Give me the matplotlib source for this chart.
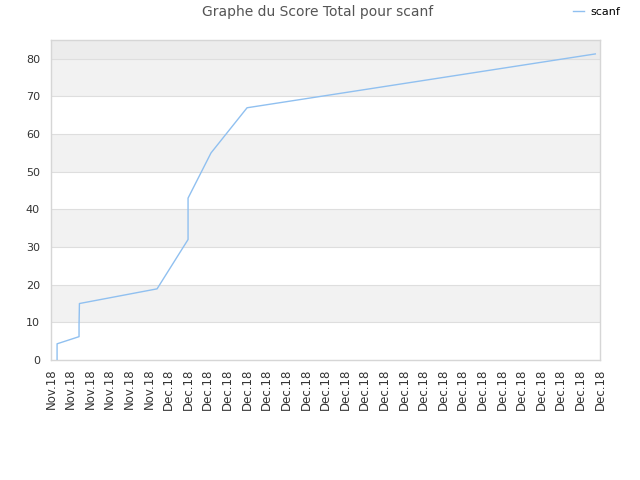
import numpy as np
import matplotlib.pyplot as plt

# x in tick-slot units (one slot per date label)
x_vals = [0.31, 0.31, 1.43, 1.43, 1.45, 5.41, 6.99, 6.99, 8.16, 10.0, 27.76]
y_vals = [0, 4.3, 6.2, 9.3, 15.0, 18.9, 32.0, 43.0, 55.0, 67.0, 81.3]

tick_labels = ["Nov.18"] * 6 + ["Dec.18"] * 23

LINE_COLOR = "#90c0f0"
GRID_COLOR = "#dedede"

fig = plt.figure(figsize=(6.4, 4.8), dpi=100)
ax = fig.add_axes([51 / 640, 120 / 480, 549 / 640, 320 / 480])

# alternating bands
for lo in range(10, 80, 20):
    ax.axhspan(lo, lo + 10, color="#f2f2f2", zorder=0, lw=0)
ax.axhspan(80, 85, color="#ececec", zorder=0, lw=0)

for yv in range(10, 90, 10):
    ax.axhline(yv, color=GRID_COLOR, lw=0.8, zorder=1)

line, = ax.plot(x_vals, y_vals, color=LINE_COLOR, lw=1.0, zorder=3, label="scanf")

ax.set_xlim(0, 28)
ax.set_ylim(0, 85)
ax.set_xticks(np.arange(len(tick_labels)))
ax.set_xticklabels(tick_labels, rotation=90, fontsize=8.5, color="#333333")
ax.set_yticks(range(0, 90, 10))
ax.tick_params(axis="y", labelsize=8, colors="#333333", length=0, pad=8)
ax.tick_params(axis="x", length=0, pad=6)

for s in ax.spines.values():
    s.set_color("#d6d6d6")
    s.set_linewidth(1.0)

fig.text(318 / 640, 1 - 12 / 480, "Graphe du Score Total pour scanf",
         ha="center", va="center", fontsize=10, color="#555555")
fig.legend(handles=[line], loc="center right",
           bbox_to_anchor=(0.985, 1 - 12 / 480), frameon=False, fontsize=8,
           handlelength=1.0, handletextpad=0.6)

fig.savefig("out.png", dpi=100)
